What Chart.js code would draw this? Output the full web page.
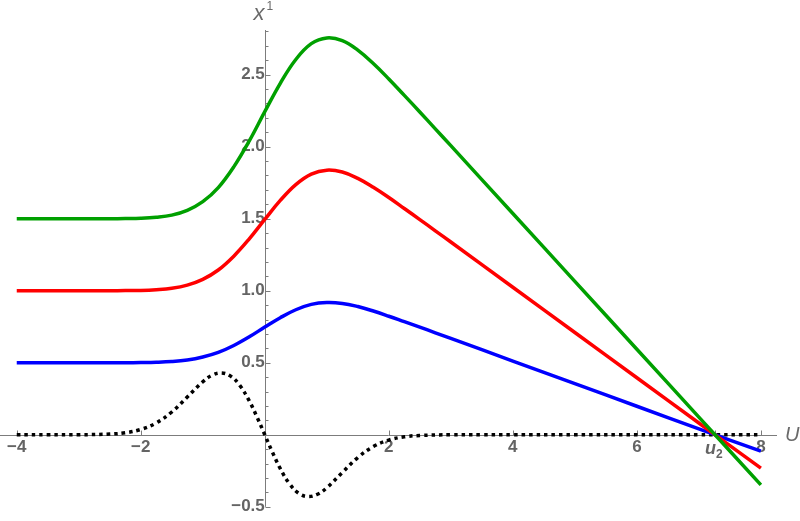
<!DOCTYPE html>
<html><head><meta charset="utf-8">
<script src="https://cdn.jsdelivr.net/npm/chart.js@4"></script>
<style>html,body{margin:0;padding:0;background:#fff;}#wrap{width:800px;height:521px;position:relative;}</style>
</head><body><div id="wrap"><canvas id="c" width="800" height="521"></canvas></div>
<script>
// ---- data ----
const U2 = 7.26;
const xCurve = [-4, -3.5, -3, -2.5, -2.25, -2, -1.75, -1.5, -1.25, -1, -0.75, -0.5, -0.25, 0, 0.25, 0.5, 0.75, 1, 1.25, 1.5, 1.75, 2, 2.25, 2.5, 2.75, 3, 4, 5, 6, 7, 8];
const blueY  = [0.5, 0.5, 0.5, 0.5, 0.5, 0.501, 0.503, 0.508, 0.519, 0.54, 0.572, 0.62, 0.68, 0.748, 0.813, 0.868, 0.905, 0.918, 0.912, 0.89, 0.859, 0.823, 0.785, 0.747, 0.708, 0.669, 0.512, 0.355, 0.198, 0.041, -0.114];
const redY   = [1.0, 1.0, 1.0, 1.0, 1.001, 1.002, 1.007, 1.017, 1.039, 1.079, 1.144, 1.24, 1.36, 1.495, 1.627, 1.737, 1.81, 1.837, 1.824, 1.78, 1.718, 1.647, 1.571, 1.494, 1.416, 1.338, 1.024, 0.71, 0.396, 0.082, -0.232];
const greenY = [1.5, 1.5, 1.5, 1.5, 1.501, 1.503, 1.51, 1.525, 1.558, 1.618, 1.716, 1.86, 2.04, 2.243, 2.44, 2.605, 2.715, 2.755, 2.736, 2.67, 2.577, 2.47, 2.356, 2.241, 2.124, 2.007, 1.536, 1.065, 0.594, 0.123, -0.348];
const xDot = [-4, -3.5, -3, -2.5, -2.25, -2, -1.75, -1.5, -1.25, -1, -0.85, -0.7, -0.55, -0.4, -0.25, -0.12, 0, 0.12, 0.25, 0.4, 0.55, 0.7, 0.85, 1, 1.25, 1.5, 1.75, 2, 2.25, 2.5, 3, 3.5, 4, 5, 6, 7, 8];
const dotY = [0, 0, 0, 0.005, 0.014, 0.037, 0.082, 0.158, 0.262, 0.368, 0.413, 0.429, 0.407, 0.341, 0.235, 0.118, 0, -0.118, -0.235, -0.341, -0.407, -0.429, -0.413, -0.368, -0.262, -0.158, -0.082, -0.037, -0.014, -0.005, 0, 0, 0, 0, 0, 0, 0];
const xTickValues = [-4, -2, 2, 4, 6, 8];
const xTickLabels = ['\u22124', '\u22122', '2', '4', '6', '8'];
const yTickValues = [-0.5, 0.5, 1.0, 1.5, 2.0, 2.5];
const yTickLabels = ['\u22120.5', '0.5', '1.0', '1.5', '2.0', '2.5'];
const xAxisTitle = 'U';
const yAxisTitle = 'x', yAxisSup = '1';
const u2Main = 'u', u2Sub = '2';

function pts(xs, ys) { return xs.map((x, i) => ({ x: x, y: ys[i] })); }

const TXT = '#646464';
const AXIS = '#7c7c7c';
const FONT = '"Liberation Sans", Arial, sans-serif';

const axesPlugin = {
  id: 'axesDecor',
  beforeDatasetsDraw(chart) {
    const ctx = chart.ctx, a = chart.chartArea, xs = chart.scales.x, ys = chart.scales.y;
    const x0 = Math.round(xs.getPixelForValue(0)) + 0.5;
    const y0 = Math.round(ys.getPixelForValue(0)) + 0.5;
    ctx.save();
    ctx.strokeStyle = AXIS; ctx.lineWidth = 1;
    ctx.beginPath();
    ctx.moveTo(a.left, y0); ctx.lineTo(a.right, y0);
    ctx.moveTo(x0, a.top); ctx.lineTo(x0, a.bottom);
    for (const v of xTickValues.concat([U2])) {
      const px = Math.round(xs.getPixelForValue(v)) + 0.5;
      ctx.moveTo(px, y0); ctx.lineTo(px, y0 - 5);
    }
    for (let k = -5; k <= 28; k++) {
      if (k === 0) continue;
      const py = Math.round(ys.getPixelForValue(k / 10)) + 0.5;
      const len = (k % 5 === 0) ? 5 : 3;
      ctx.moveTo(x0, py); ctx.lineTo(x0 + len, py);
    }
    ctx.stroke();
    // u2 tick label
    ctx.fillStyle = TXT;
    ctx.textBaseline = 'alphabetic';
    const pu = xs.getPixelForValue(U2);
    ctx.font = 'italic bold 18px ' + FONT;
    ctx.textAlign = 'right';
    ctx.fillText(u2Main, pu + 1, y0 + 18);
    ctx.font = 'bold 12px ' + FONT;
    ctx.textAlign = 'left';
    ctx.fillText(u2Sub, pu + 1, y0 + 22);
    // axis titles
    ctx.fillStyle = '#6a6a6a';
    ctx.font = 'italic 22px ' + FONT;
    ctx.textAlign = 'right';
    ctx.fillText(yAxisTitle, x0 - 1, 20);
    ctx.font = '12px ' + FONT;
    ctx.textAlign = 'left';
    ctx.fillText(yAxisSup, x0 + 1, 10);
    ctx.font = 'italic 20px ' + FONT;
    ctx.textAlign = 'left';
    ctx.textBaseline = 'middle';
    ctx.fillText(xAxisTitle, xs.right + 8, y0);
    ctx.restore();
  }
};

const lineBase = { fill: false, pointRadius: 0, borderWidth: 3.5, tension: 0.4, borderCapStyle: 'butt', borderJoinStyle: 'round' };

new Chart(document.getElementById('c'), {
  type: 'line',
  data: {
    datasets: [
      Object.assign({ label: 'green', data: pts(xCurve, greenY), borderColor: '#00a000', order: 0 }, lineBase),
      Object.assign({ label: 'red', data: pts(xCurve, redY), borderColor: '#ff0000', order: 1 }, lineBase),
      Object.assign({ label: 'blue', data: pts(xCurve, blueY), borderColor: '#0000ff', order: 2 }, lineBase),
      Object.assign({ label: 'dot', data: pts(xDot, dotY), borderColor: '#000000', borderDash: [3.5, 4], order: 3 }, lineBase)
    ]
  },
  options: {
    responsive: false,
    animation: false,
    events: [],
    layout: { padding: { left: 0, right: 23, top: 30, bottom: 11 } },
    plugins: { legend: { display: false }, tooltip: { enabled: false }, title: { display: false } },
    scales: {
      x: {
        type: 'linear', min: -4.27, max: 8.26, position: { y: 0 },
        grid: { display: false, drawTicks: false }, border: { display: false },
        afterBuildTicks: s => { s.ticks = xTickValues.map(v => ({ value: v })); },
        ticks: { autoSkip: false, maxRotation: 0, padding: 2, color: TXT, font: { family: FONT, size: 17, weight: 'bold' },
                 callback: (v, i) => xTickLabels[i] }
      },
      y: {
        type: 'linear', min: -0.5, max: 2.81, position: { x: 0 },
        grid: { display: false, drawTicks: false }, border: { display: false },
        afterBuildTicks: s => { s.ticks = yTickValues.map(v => ({ value: v })); },
        ticks: { autoSkip: false, padding: 4, color: TXT, font: { family: FONT, size: 17, weight: 'bold' },
                 callback: (v, i) => yTickLabels[i] }
      }
    }
  },
  plugins: [axesPlugin]
});
</script></body></html>
